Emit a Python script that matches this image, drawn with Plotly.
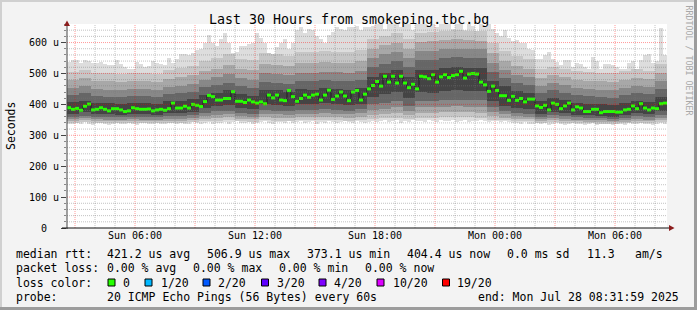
import plotly.graph_objects as go
import pandas as pd

# ---------------- data ----------------
TITLE = "Last 30 Hours from smokeping.tbc.bg"

# median RTT per 12-minute bin (µs), 150 bins
median = [
    389, 384, 387, 381, 394, 401, 382, 384, 389, 384, 379, 386, 386, 382, 377, 379, 389, 386, 384, 384,
    385, 379, 382, 384, 381, 386, 404, 388, 388, 394, 388, 400, 397, 393, 409, 429, 425, 414,
    414, 419, 419, 441, 410, 410, 406, 414, 408, 404, 408, 402, 430, 421, 430, 414, 412, 445, 425, 410,
    419, 430, 423, 430, 433, 414, 430, 446, 416, 427, 440, 427, 412, 440, 445, 414, 433,
    450, 461, 474, 459, 491, 472, 491, 469, 491, 469, 454, 465, 450, 491, 489, 483, 496, 472, 489, 496,
    487, 493, 496, 507, 485, 498, 500, 498, 472, 463, 442, 459, 445, 428, 428, 413, 426,
    413, 419, 408, 417, 417, 395, 390, 397, 382, 404, 400, 386, 395, 404, 382, 392, 388, 377, 377, 384,
    384, 373, 377, 377, 377, 375, 375, 382, 384, 395, 386, 402, 388, 382, 388, 386, 402, 404,
]

# slowest ping per bin (top of the lightest smoke), 150 bins
smoke_max = [
    537, 543, 543, 534, 543, 540, 534, 534, 537, 530, 527, 527, 545, 530, 521, 516, 513, 537, 530, 522,
    524, 540, 535, 532, 528, 551, 533, 548, 564, 562, 560, 566, 577, 580, 597, 623, 600, 588,
    610, 630, 600, 565, 570, 590, 590, 595, 600, 630, 615, 600, 565, 560, 585, 600, 610, 580, 600, 640,
    650, 630, 645, 640, 620, 610, 600, 625, 635, 650, 645, 640, 650, 650, 655, 640, 650,
    650, 655, 660, 660, 645, 660, 660, 660, 650, 660, 660, 640, 660, 660, 660, 655, 660, 650, 660, 660,
    660, 645, 660, 660, 640, 660, 655, 635, 660, 650, 660, 645, 630, 620, 640, 615, 605,
    607, 600, 597, 580, 575, 548, 548, 560, 568, 548, 537, 527, 543, 545, 521, 535, 530, 521, 516, 553,
    540, 516, 530, 532, 527, 520, 516, 516, 533, 540, 516, 543, 560, 564, 533, 540, 648, 560,
]

# fastest ping per bin (bottom of the lightest smoke), 150 bins
smoke_min = [
    338, 335, 340, 336, 342, 338, 334, 339, 341, 336, 333, 337, 340, 335, 338, 342, 336, 333, 339, 340,
    337, 335, 341, 338, 336, 339, 343, 337, 340, 335, 338, 342, 339, 336, 340, 344, 338, 341,
    340, 343, 338, 342, 345, 339, 341, 344, 337, 340, 343, 346, 341, 338, 344, 342, 339, 345, 341, 343,
    347, 340, 342, 345, 338, 344, 341, 346, 343, 340, 344, 347, 342, 339, 345, 343, 341,
    344, 347, 342, 346, 349, 343, 345, 348, 341, 346, 344, 350, 345, 347, 343, 348, 346, 344, 349, 345,
    347, 350, 343, 346, 348, 344, 347, 345, 349, 346, 343, 347, 345, 342, 346, 344, 341,
    340, 337, 342, 338, 335, 340, 336, 339, 334, 338, 341, 336, 333, 337, 340, 335, 338, 332, 336, 339,
    334, 337, 340, 335, 333, 338, 336, 334, 339, 337, 335, 340, 336, 338, 334, 337, 339, 336,
]

# inner smoke bands per 36-minute block (50 blocks): top / bottom
hi_b = [505, 512, 503, 500, 499, 502, 501, 499, 510, 518, 525, 540, 550, 562, 548, 544, 565, 562, 558, 570,
        568, 572, 570, 568, 576, 612, 622, 630, 612, 632, 634, 638, 640, 638, 636, 598, 572, 555, 546, 514,
        522, 516, 508, 504, 502, 500, 507, 514, 509, 530]
lo_b = [341, 343, 340, 340, 339, 340, 340, 339, 341, 341, 342, 345, 347, 348, 345, 344, 348, 347, 346, 348,
        348, 349, 348, 347, 349, 353, 355, 357, 352, 357, 357, 358, 358, 358, 357, 351, 348, 346, 345, 341,
        342, 341, 340, 339, 338, 338, 339, 341, 340, 342]
hi_c = [478, 484, 476, 474, 473, 476, 475, 473, 482, 488, 494, 508, 516, 528, 514, 510, 530, 528, 524, 534,
        533, 537, 535, 533, 540, 580, 592, 600, 580, 602, 604, 608, 610, 608, 606, 565, 540, 524, 516, 486,
        494, 488, 480, 476, 474, 472, 479, 486, 481, 500]
lo_c = [347, 349, 346, 345, 345, 346, 345, 345, 347, 347, 349, 353, 356, 358, 353, 352, 358, 357, 356, 358,
        358, 360, 358, 357, 360, 366, 369, 372, 364, 372, 372, 374, 374, 374, 373, 362, 357, 353, 352, 346,
        348, 347, 345, 344, 343, 342, 344, 347, 345, 349]
hi_d = [452, 458, 450, 448, 447, 450, 449, 447, 456, 460, 465, 480, 488, 498, 485, 480, 500, 498, 494, 503,
        502, 506, 504, 502, 508, 550, 562, 570, 550, 572, 574, 578, 580, 578, 578, 535, 512, 496, 488, 460,
        468, 462, 454, 450, 448, 446, 453, 460, 455, 474]
lo_d = [353, 356, 352, 351, 351, 352, 351, 351, 354, 354, 356, 362, 366, 368, 362, 360, 370, 368, 366, 370,
        370, 372, 370, 368, 372, 382, 386, 390, 378, 390, 390, 393, 394, 393, 393, 376, 368, 362, 360, 352,
        355, 353, 351, 349, 348, 347, 350, 353, 351, 356]
hi_e = [430, 436, 428, 425, 424, 427, 426, 424, 433, 436, 440, 455, 462, 470, 458, 452, 472, 470, 466, 475,
        474, 478, 476, 474, 480, 520, 532, 540, 520, 545, 545, 550, 552, 550, 550, 505, 485, 470, 462, 436,
        445, 438, 430, 427, 425, 422, 430, 437, 432, 450]
lo_e = [360, 363, 359, 358, 358, 359, 358, 358, 362, 362, 364, 372, 378, 380, 372, 370, 382, 380, 377, 382,
        382, 384, 382, 380, 384, 400, 405, 410, 395, 410, 410, 414, 415, 414, 414, 392, 380, 373, 370, 360,
        364, 361, 358, 356, 355, 354, 357, 361, 358, 366]
hi_f = [407, 412, 405, 403, 402, 405, 404, 402, 410, 412, 416, 430, 438, 445, 432, 428, 448, 446, 440, 449,
        448, 452, 450, 448, 453, 488, 500, 510, 488, 512, 512, 518, 520, 518, 518, 475, 458, 444, 438, 412,
        420, 414, 406, 402, 400, 398, 405, 412, 408, 425]
lo_f = [370, 374, 369, 368, 367, 369, 368, 367, 372, 372, 376, 388, 395, 398, 388, 385, 400, 398, 395, 400,
        400, 403, 400, 398, 402, 425, 432, 440, 420, 440, 438, 444, 445, 444, 444, 410, 395, 388, 385, 370,
        376, 372, 367, 364, 362, 360, 366, 372, 368, 380]

y_ticks = [0, 100, 200, 300, 400, 500, 600]
y_ticktext = ["0\u00a0\u00a0", "100 u", "200 u", "300 u", "400 u", "500 u", "600 u"]
x_ticks = ["2025-07-27 06:00", "2025-07-27 12:00", "2025-07-27 18:00", "2025-07-28 00:00", "2025-07-28 06:00"]
x_ticktext = ["Sun 06:00", "Sun 12:00", "Sun 18:00", "Mon 00:00", "Mon 06:00"]

legend_rows = [
    [("median rtt:", 16), ("421.2 us avg", 107), ("506.9 us max", 207), ("373.1 us min", 306.5),
     ("404.4 us now", 406.5), ("0.0 ms sd", 506.5), ("11.3", 586.5), ("am/s", 635)],
    [("packet loss:", 16), ("0.00 % avg", 107), ("0.00 % max", 193), ("0.00 % min", 279), ("0.00 % now", 365)],
    [("loss color:", 16)],
    [("probe:", 16), ("20 ICMP Echo Pings (56 Bytes) every 60s", 107), ("end: Mon Jul 28 08:31:59 2025", 478)],
]
loss_labels = ["0", "1/20", "2/20", "3/20", "4/20", "10/20", "19/20"]
loss_colors = ["#26ff00", "#00b8ff", "#0059ff", "#5e00ff", "#7e00ff", "#dd00ff", "#ff0000"]

# ---------------- geometry helpers ----------------
W, H = 697, 310
L, R, T, B = 67, 30, 24, 82
PW, PH = W - L - R, H - T - B


def px_x(p):
    return (p - L) / PW


def px_y(p):
    return (H - B - p) / PH


START = pd.Timestamp("2025-07-27 02:36")
END = pd.Timestamp("2025-07-28 08:36")
bin_x = pd.date_range("2025-07-27 02:42", periods=len(median), freq="12min")
bin_edge = pd.date_range("2025-07-27 02:36", periods=len(median) + 1, freq="12min")
blk_x = pd.date_range("2025-07-27 02:54", periods=len(hi_b), freq="36min")
BIN_MS = 12 * 60 * 1000
BLK_MS = 36 * 60 * 1000

fig = go.Figure()


def band(x, lo, hi, w, color):
    fig.add_trace(go.Bar(
        x=x, base=lo, y=[h - l for h, l in zip(hi, lo)], width=w,
        marker=dict(color=color, line=dict(width=0)),
        hoverinfo="skip", showlegend=False))


band(bin_x, smoke_min, smoke_max, BIN_MS, "#dddddd")
band(blk_x, lo_b, hi_b, BLK_MS, "#c6c6c6")
band(blk_x, lo_c, hi_c, BLK_MS, "#a8a8a8")
band(blk_x, lo_d, hi_d, BLK_MS, "#888888")
band(blk_x, lo_e, hi_e, BLK_MS, "#666666")
band(blk_x, lo_f, hi_f, BLK_MS, "#444444")

# median: thin dark risers, then green steps on top
fig.add_trace(go.Scatter(x=bin_edge[:-1], y=median, mode="lines",
                         line=dict(shape="hv", color="#1e1e1e", width=1),
                         hoverinfo="skip", showlegend=False))
seg_x, seg_y = [], []
for k, m in enumerate(median):
    seg_x += [bin_edge[k], bin_edge[k + 1], None]
    seg_y += [m, m, None]
fig.add_trace(go.Scatter(x=seg_x, y=seg_y, mode="lines",
                         line=dict(color=loss_colors[0], width=3),
                         hoverinfo="skip", showlegend=False, connectgaps=False))

# ---------------- grid (drawn above the smoke like rrdtool) ----------------
shapes = []
for t in pd.date_range("2025-07-27 03:00", "2025-07-28 08:00", freq="h"):
    major = t.hour % 3 == 0
    shapes.append(dict(type="line", xref="x", yref="paper", x0=t, x1=t, y0=0, y1=1, layer="above",
                       line=dict(color="rgba(255,0,0,0.40)" if major else "rgba(120,120,120,0.45)",
                                 width=1, dash="1px,1px")))
for v in range(20, 660, 20):
    major = v % 100 == 0
    shapes.append(dict(type="line", xref="paper", yref="y", x0=0, x1=1, y0=v, y1=v, layer="above",
                       line=dict(color="rgba(255,0,0,0.40)" if major else "rgba(120,120,120,0.45)",
                                 width=1, dash="1px,1px")))

# axes lines and arrows
shapes.append(dict(type="line", xref="paper", yref="paper", x0=px_x(67), x1=px_x(67), y0=px_y(229), y1=px_y(24),
                   line=dict(color="#444444", width=1), layer="above"))
shapes.append(dict(type="line", xref="paper", yref="paper", x0=px_x(62), x1=px_x(669), y0=px_y(228), y1=px_y(228),
                   line=dict(color="#111111", width=1), layer="above"))
shapes.append(dict(type="path", xref="paper", yref="paper", layer="above",
                   path="M {} {} L {} {} L {} {} Z".format(px_x(64), px_y(26), px_x(70), px_y(26), px_x(67), px_y(20.5)),
                   fillcolor="#8b1c1c", line=dict(width=0)))
shapes.append(dict(type="path", xref="paper", yref="paper", layer="above",
                   path="M {} {} L {} {} L {} {} Z".format(px_x(669), px_y(225), px_x(669), px_y(231), px_x(674.5), px_y(228)),
                   fillcolor="#8b1c1c", line=dict(width=0)))

# image frame
shapes.append(dict(type="rect", xref="paper", yref="paper", x0=px_x(0), x1=px_x(697), y0=px_y(0), y1=px_y(2),
                   fillcolor="#d0d0d0", line=dict(width=0), layer="above"))
shapes.append(dict(type="rect", xref="paper", yref="paper", x0=px_x(0), x1=px_x(2), y0=px_y(0), y1=px_y(310),
                   fillcolor="#d0d0d0", line=dict(width=0), layer="above"))
shapes.append(dict(type="rect", xref="paper", yref="paper", x0=px_x(0), x1=px_x(697), y0=px_y(307), y1=px_y(310),
                   fillcolor="#9c9c9c", line=dict(width=0), layer="above"))
shapes.append(dict(type="rect", xref="paper", yref="paper", x0=px_x(694), x1=px_x(697), y0=px_y(0), y1=px_y(310),
                   fillcolor="#9c9c9c", line=dict(width=0), layer="above"))

# loss colour swatches
swatch_x = [108, 145, 203, 261.5, 319, 377, 442.5]
label_x = [123, 160.5, 218.3, 276.7, 334, 392.7, 457.3]
for sx, c in zip(swatch_x, loss_colors):
    shapes.append(dict(type="rect", xref="paper", yref="paper", x0=px_x(sx), x1=px_x(sx + 7),
                       y0=px_y(286), y1=px_y(279), fillcolor=c, line=dict(color="#000000", width=1), layer="above"))

fig.update_layout(shapes=shapes)

# ---------------- text ----------------
MONO = "DejaVu Sans Mono"


def txt(s, x, y, size=11.5, color="#000000", anchor="left", angle=0):
    fig.add_annotation(text=s, x=px_x(x), y=px_y(y), xref="paper", yref="paper",
                       xanchor=anchor, yanchor="middle", showarrow=False, textangle=angle,
                       font=dict(family=MONO, size=size, color=color), borderpad=0, borderwidth=0)


txt(TITLE, 348.5, 19, size=13.3, anchor="center")
txt("Seconds", 11, 126, size=11.5, anchor="center", angle=-90)
txt("RRDTOOL / TOBI OETIKER", 688.5, 60, size=8.3, color="#a8a8a8", anchor="center", angle=90)

row_y = [254.3, 268.3, 282.5, 296.5]
for row, yy in zip(legend_rows, row_y):
    for s, xx in row:
        txt(s, xx, yy)
for s, xx in zip(loss_labels, label_x):
    txt(s, xx, row_y[2])

fig.update_layout(
    width=W, height=H, margin=dict(l=L, r=R, t=T, b=B, pad=0),
    paper_bgcolor="#f3f3f3", plot_bgcolor="#ffffff",
    barmode="overlay", bargap=0, showlegend=False,
    font=dict(family=MONO, size=10, color="#000000"),
)
fig.update_xaxes(type="date", range=[START, END], showgrid=False, zeroline=False, showline=False,
                 tickvals=x_ticks, ticktext=x_ticktext, ticks="", tickfont=dict(size=10))
fig.update_yaxes(range=[0, 660], showgrid=False, zeroline=False, showline=False,
                 tickvals=y_ticks, ticktext=y_ticktext, ticks="outside", ticklen=5, tickcolor="#444444",
                 minor=dict(ticks="outside", ticklen=2, dtick=20, tickcolor="#888888"),
                 tickfont=dict(size=10))

fig.write_html("out.html")
